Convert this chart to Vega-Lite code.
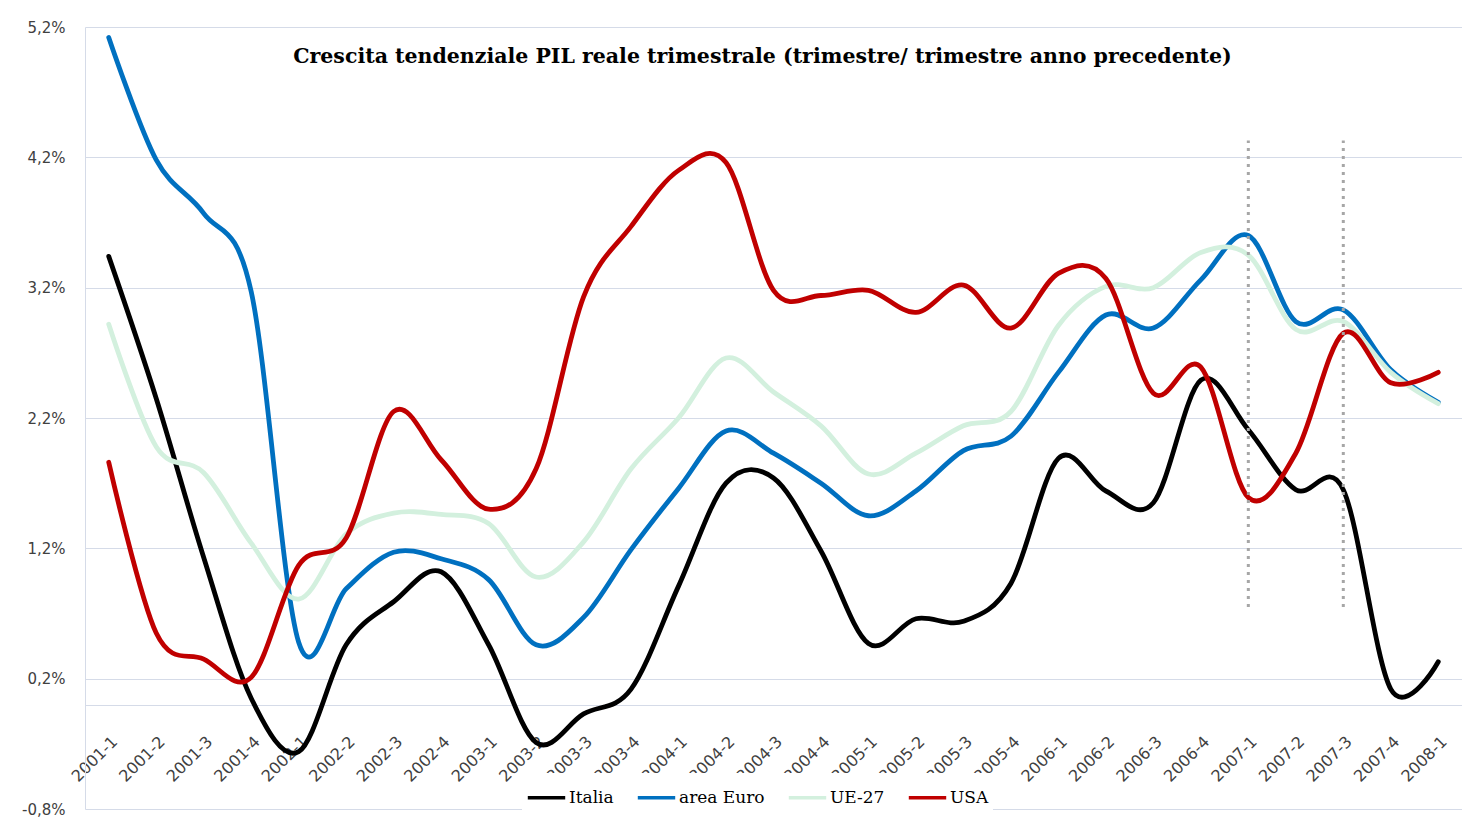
{
  "$schema": "https://vega.github.io/schema/vega-lite/v6.json",
  "width": 1377,
  "height": 782,
  "autosize": {"type": "none"},
  "padding": {"left": 85, "top": 27, "right": 0, "bottom": 11},
  "background": "white",
  "config": {"view": {"stroke": null}},
  "title": {
    "text": "Crescita tendenziale PIL reale trimestrale (trimestre/ trimestre anno precedente)",
    "font": "DejaVu Serif",
    "fontSize": 20.5,
    "fontWeight": "bold",
    "color": "#000000",
    "anchor": "middle",
    "baseline": "middle",
    "offset": 0,
    "dy": 57,
    "dx": -11
  },
  "data": {
    "values": [
      {"q": "2001-1", "Italia": 3.44, "area Euro": 5.12, "UE-27": 2.92, "USA": 1.86},
      {"q": "2001-2", "Italia": 2.35, "area Euro": 4.18, "UE-27": 1.98, "USA": 0.55},
      {"q": "2001-3", "Italia": 1.13, "area Euro": 3.77, "UE-27": 1.78, "USA": 0.35},
      {"q": "2001-4", "Italia": 0.05, "area Euro": 3.17, "UE-27": 1.24, "USA": 0.21},
      {"q": "2002-1", "Italia": -0.36, "area Euro": 0.48, "UE-27": 0.81, "USA": 1.07},
      {"q": "2002-2", "Italia": 0.46, "area Euro": 0.89, "UE-27": 1.31, "USA": 1.28},
      {"q": "2002-3", "Italia": 0.79, "area Euro": 1.17, "UE-27": 1.47, "USA": 2.25},
      {"q": "2002-4", "Italia": 1.02, "area Euro": 1.12, "UE-27": 1.46, "USA": 1.88},
      {"q": "2003-1", "Italia": 0.46, "area Euro": 0.96, "UE-27": 1.39, "USA": 1.5},
      {"q": "2003-2", "Italia": -0.29, "area Euro": 0.46, "UE-27": 0.98, "USA": 1.81},
      {"q": "2003-3", "Italia": -0.07, "area Euro": 0.67, "UE-27": 1.25, "USA": 3.13},
      {"q": "2003-4", "Italia": 0.12, "area Euro": 1.19, "UE-27": 1.81, "USA": 3.67},
      {"q": "2004-1", "Italia": 0.91, "area Euro": 1.66, "UE-27": 2.2, "USA": 4.1},
      {"q": "2004-2", "Italia": 1.7, "area Euro": 2.1, "UE-27": 2.66, "USA": 4.16},
      {"q": "2004-3", "Italia": 1.74, "area Euro": 1.93, "UE-27": 2.4, "USA": 3.18},
      {"q": "2004-4", "Italia": 1.18, "area Euro": 1.7, "UE-27": 2.14, "USA": 3.14},
      {"q": "2005-1", "Italia": 0.47, "area Euro": 1.45, "UE-27": 1.77, "USA": 3.18},
      {"q": "2005-2", "Italia": 0.66, "area Euro": 1.64, "UE-27": 1.93, "USA": 3.01},
      {"q": "2005-3", "Italia": 0.64, "area Euro": 1.95, "UE-27": 2.14, "USA": 3.22},
      {"q": "2005-4", "Italia": 0.93, "area Euro": 2.06, "UE-27": 2.25, "USA": 2.89},
      {"q": "2006-1", "Italia": 1.89, "area Euro": 2.55, "UE-27": 2.91, "USA": 3.31},
      {"q": "2006-2", "Italia": 1.64, "area Euro": 2.99, "UE-27": 3.21, "USA": 3.27},
      {"q": "2006-3", "Italia": 1.55, "area Euro": 2.89, "UE-27": 3.2, "USA": 2.39},
      {"q": "2006-4", "Italia": 2.49, "area Euro": 3.26, "UE-27": 3.47, "USA": 2.59},
      {"q": "2007-1", "Italia": 2.11, "area Euro": 3.6, "UE-27": 3.45, "USA": 1.59},
      {"q": "2007-2", "Italia": 1.65, "area Euro": 2.94, "UE-27": 2.88, "USA": 1.93},
      {"q": "2007-3", "Italia": 1.65, "area Euro": 3.03, "UE-27": 2.94, "USA": 2.85},
      {"q": "2007-4", "Italia": 0.12, "area Euro": 2.57, "UE-27": 2.55, "USA": 2.47},
      {"q": "2008-1", "Italia": 0.33, "area Euro": 2.32, "UE-27": 2.31, "USA": 2.55}
    ]
  },
  "layer": [
    {
      "transform": [{"fold": ["Italia", "area Euro", "UE-27", "USA"], "as": ["serie", "valore"]}],
      "mark": {"type": "line", "interpolate": "cardinal", "strokeWidth": 4.8, "strokeCap": "round", "strokeJoin": "round"},
      "encoding": {
        "x": {
          "field": "q",
          "type": "ordinal",
          "scale": {"type": "point", "padding": 0.5},
          "axis": {
            "title": null,
            "offset": -104,
            "labelAngle": -45,
            "labelFont": "DejaVu Sans",
            "labelFontSize": 16,
            "labelColor": "#404040",
            "ticks": false,
            "grid": false,
            "domainColor": "#d5dbe8",
            "labelPadding": 28,
            "labelDx": -3,
            "labelDy": -3
          }
        },
        "y": {
          "field": "valore",
          "type": "quantitative",
          "scale": {"domain": [-0.8, 5.2], "nice": false, "zero": false},
          "axis": {
            "title": null,
            "values": [-0.8, 0.2, 1.2, 2.2, 3.2, 4.2, 5.2],
            "labelExpr": "replace(replace(format(datum.value, '.1f'), '.', ','), '\u2212', '-') + '%'",
            "labelFont": "DejaVu Sans",
            "labelFontSize": 15,
            "labelColor": "#404040",
            "ticks": false,
            "labelPadding": 20,
            "gridColor": "#d5dbe8",
            "domainColor": "#d5dbe8"
          }
        },
        "color": {
          "field": "serie",
          "type": "nominal",
          "scale": {
            "domain": ["Italia", "area Euro", "UE-27", "USA"],
            "range": ["#000000", "#0070c0", "#d3f0de", "#c00000"]
          },
          "legend": {
            "orient": "none",
            "legendX": 437,
            "legendY": 746,
            "direction": "horizontal",
            "title": null,
            "symbolType": "stroke",
            "symbolSize": 1400,
            "symbolStrokeWidth": 3.5,
            "labelFont": "DejaVu Serif",
            "labelFontSize": 17,
            "labelColor": "#000000",
            "labelOffset": 2,
            "columnPadding": 16,
            "fillColor": "white",
            "padding": 4
          }
        }
      }
    },
    {
      "data": {"values": [{"q": "2007-1"}, {"q": "2007-3"}]},
      "mark": {"type": "rule", "stroke": "#a6a6a6", "strokeWidth": 3, "strokeDash": [3, 5]},
      "encoding": {
        "x": {"field": "q", "type": "ordinal"},
        "y": {"datum": 0.75},
        "y2": {"datum": 4.33}
      }
    }
  ]
}
